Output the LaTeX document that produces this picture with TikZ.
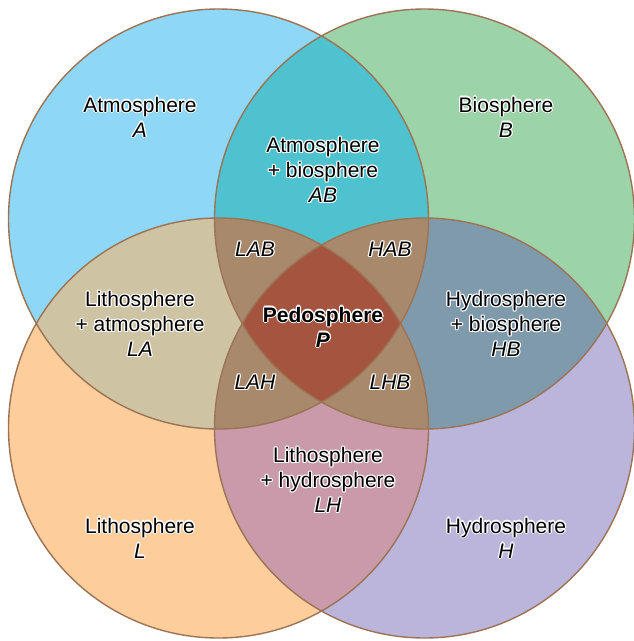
\documentclass[tikz,border=0pt]{standalone}
\usepackage{fontspec}
\setmainfont{Liberation Sans}
\usetikzlibrary{calc}
\definecolor{cA}{HTML}{8FD7F7}
\definecolor{cB}{HTML}{9DD3A8}
\definecolor{cL}{HTML}{FDCE9C}
\definecolor{cH}{HTML}{BBB5DC}
\definecolor{cAB}{HTML}{4EC2CE}
\definecolor{cLA}{HTML}{CEC3A2}
\definecolor{cHB}{HTML}{7F9BAB}
\definecolor{cLH}{HTML}{C89AAA}
\definecolor{cTri}{HTML}{A8896B}
\definecolor{cP}{HTML}{A55440}
\definecolor{cEdge}{HTML}{9C7355}
\tikzset{
  lbltext/.style={font=\fontsize{21}{25}\selectfont, align=center, inner sep=0pt, text=black},
  edge/.style={draw=cEdge, line width=1.4pt}
}
\newcommand\lbl[3]{%
  \foreach \a in {0,45,...,315} \node[lbltext,text=white] at ($(#1)+(\a:1.2pt)$) {#3};
  \node[lbltext] (#2) at (#1) {#3};}
\newcommand\cA{(218.5,219) circle[radius=210pt]}
\newcommand\cB{(424.5,219) circle[radius=210pt]}
\newcommand\cL{(218.5,428) circle[radius=210pt]}
\newcommand\cH{(424.5,428) circle[radius=210pt]}
\begin{document}
\begin{tikzpicture}[x=1pt,y=-1pt]
\useasboundingbox (0,0) rectangle (633,641);
\fill[white] (0,0) rectangle (633,641);
% base circles
\fill[cA] \cA;
\fill[cB] \cB;
\fill[cL] \cL;
\fill[cH] \cH;
% pairs
\begin{scope}\clip \cA; \fill[cAB] \cB; \end{scope}
\begin{scope}\clip \cL; \fill[cLA] \cA; \end{scope}
\begin{scope}\clip \cH; \fill[cHB] \cB; \end{scope}
\begin{scope}\clip \cL; \fill[cLH] \cH; \end{scope}
% triples
\begin{scope}\clip \cA; \clip \cB; \fill[cTri] \cL; \fill[cTri] \cH; \end{scope}
\begin{scope}\clip \cL; \clip \cH; \fill[cTri] \cA; \fill[cTri] \cB; \end{scope}
% center
\begin{scope}\clip \cA; \clip \cB; \clip \cL; \fill[cP] \cH; \end{scope}
% outlines
\draw[edge] \cA;
\draw[edge] \cB;
\draw[edge] \cL;
\draw[edge] \cH;
% labels
\lbl{140,117}{atm}{Atmosphere\\\textit{A}}
\lbl{506,117}{bio}{Biosphere\\\textit{B}}
\lbl{323,170}{ab}{Atmosphere\\+ biosphere\\\textit{AB}}
\lbl{255,249}{lab}{\textit{LAB}}
\lbl{390,249}{hab}{\textit{HAB}}
\lbl{140,324}{la}{Lithosphere\\+ atmosphere\\\textit{LA}}
\lbl{323,327}{ped}{\textbf{Pedosphere}\\\textbf{\textit{P}}}
\lbl{506,324}{hb}{Hydrosphere\\+ biosphere\\\textit{HB}}
\lbl{255,382}{lah}{\textit{LAH}}
\lbl{390,382}{lhb}{\textit{LHB}}
\lbl{328,480}{lh}{Lithosphere\\+ hydrosphere\\\textit{LH}}
\lbl{140,538}{lit}{Lithosphere\\\textit{L}}
\lbl{506,538}{hyd}{Hydrosphere\\\textit{H}}
\end{tikzpicture}
\end{document}
